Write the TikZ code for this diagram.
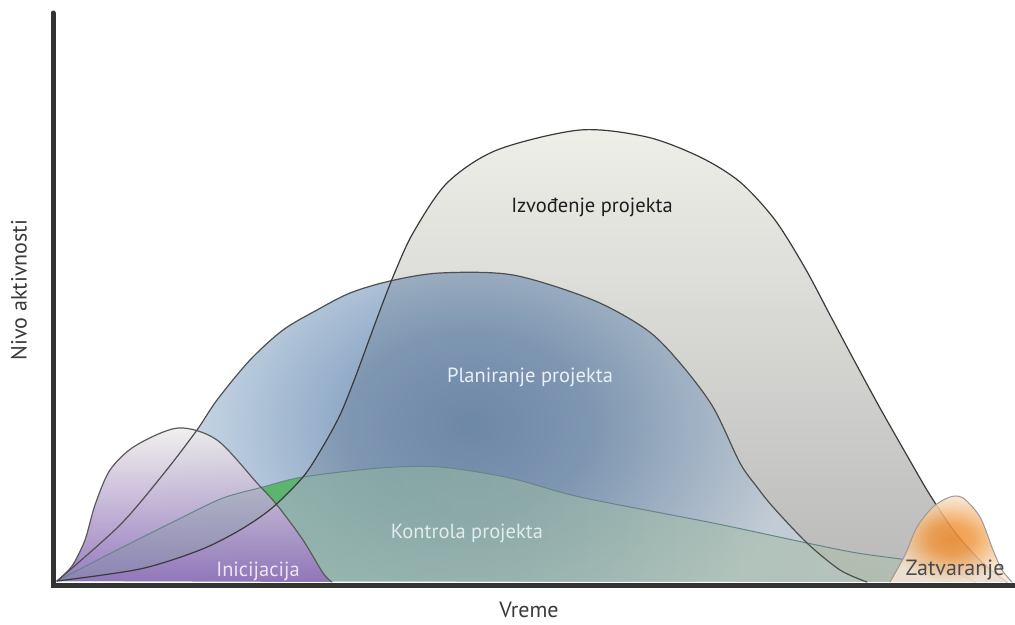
\documentclass[tikz,border=0pt]{standalone}
\usepackage{fontspec}
\setmainfont{PT Sans}
\definecolor{izvTop}{HTML}{EFEFE9}
\definecolor{izvMid}{HTML}{E3E3DF}
\definecolor{izvBot}{HTML}{B9B9B9}
\definecolor{planIn}{HTML}{7A97BA}
\definecolor{planMid}{HTML}{8CA7C6}
\definecolor{planOut}{HTML}{D9E4ED}
\definecolor{konL}{HTML}{7BAE98}
\definecolor{konR}{HTML}{B4C2B0}
\definecolor{konBand}{HTML}{7F9E9E}
\definecolor{iniTop}{HTML}{F0EFEC}
\definecolor{iniBot}{HTML}{9070BC}
\definecolor{overlapGreen}{HTML}{5CB56E}
\definecolor{zatIn}{HTML}{EE8A2A}
\definecolor{zatMid}{HTML}{F19A45}
\definecolor{zatLight}{HTML}{F5C99C}
\definecolor{zatOut}{HTML}{F6E6D6}
\definecolor{lineIzv}{HTML}{3A3A3A}
\definecolor{linePlan}{HTML}{4F4F4F}
\definecolor{lineIni}{HTML}{5A5A5A}
\definecolor{lineKon}{HTML}{66858A}
\definecolor{lineZat}{HTML}{A09890}
\definecolor{axisGray}{HTML}{333333}
\definecolor{izvText}{HTML}{1E1E1E}
\definecolor{planText}{HTML}{EAF0F6}
\definecolor{konText}{HTML}{E2ECEB}
\definecolor{iniText}{HTML}{EEE6F6}
\definecolor{zatText}{HTML}{4A4A4A}
\definecolor{axisText}{HTML}{3A3A3A}
% radial shadings: 25bp is the edge of the shaded path's bounding box
\pgfdeclareradialshading{planshade}{\pgfpoint{0bp}{0bp}}{color(0bp)=(planIn); color(9bp)=(planMid); color(25bp)=(planOut); color(50bp)=(planOut)}
\pgfdeclareradialshading{zatshade}{\pgfpoint{0bp}{0bp}}{color(0bp)=(zatIn); color(9bp)=(zatMid); color(18bp)=(zatLight); color(25bp)=(zatOut); color(50bp)=(zatOut)}
\begin{document}
\begin{tikzpicture}[x=1pt,y=-1pt,line join=round,line cap=round,
  phase/.style={font=\fontsize{20.5}{22}\selectfont,inner sep=0pt},
  axislabel/.style={font=\fontsize{22}{24}\selectfont,text=axisText,inner sep=0pt},
  edge/.style={line width=1.2pt}]
\useasboundingbox (0,0) rectangle (1015,624);

% phase curves (x to the right, activity upwards)
\def\cIzv{plot[smooth] coordinates {(57,581) (140,569) (200,550) (240,530) (272,508) (303,477) (322,448) (340,415) (355,378) (369,340) (382,305) (395,272) (413,233) (447,183) (497,150) (580,130) (647,137) (700,157) (740,182) (775,220) (805,268) (830,315) (855,362) (880,408) (905,452) (930,495) (957,535) (985,565) (1007,582)}}
\def\cPlan{plot[smooth] coordinates {(57,581) (120,525) (165,472) (197,430) (217,400) (250,360) (283,330) (317,310) (350,293) (390,281) (440,273) (513,275) (593,300) (647,330) (680,363) (713,407) (740,463) (757,487) (773,507) (807,543) (840,570) (867,582)}}
\def\cKon{plot[smooth] coordinates {(57,581) (117,550) (183,517) (223,498) (263,487) (303,477) (380,468) (440,467) (510,478) (580,497) (713,523) (807,543) (857,553) (907,560) (945,568) (975,582)}}
\def\cIni{plot[smooth] coordinates {(57,581) (72,566) (85,540) (95,505) (110,470) (135,446) (178,428) (217,440) (257,483) (277,505) (303,540) (323,573) (332,582)}}
\def\cZat{plot[smooth] coordinates {(890,582) (905,555) (917,527) (933,507) (950,497) (963,498) (980,517) (993,550) (1002,570) (1012,582)}}

% execution
\shade[top color=izvTop,middle color=izvMid,bottom color=izvBot] \cIzv -- cycle;
% planning
\fill[planOut] \cPlan -- cycle;
\begin{scope}
  \clip \cPlan -- cycle;
  \shade[shading=planshade] (470,425) ellipse (330 and 250);
  \fill[black,opacity=0.1] \cIzv -- cycle;
\end{scope}
% control
\shade[left color=konL,right color=konR,opacity=0.6] \cKon -- cycle;
% initiation
\shade[top color=iniTop,bottom color=iniBot,opacity=0.9] \cIni -- cycle;
\begin{scope}
  \clip \cIni -- cycle;
  \clip \cKon -- cycle;
  \fill[konBand,opacity=0.3,even odd rule] (0,0) rectangle (1015,624) \cIzv -- cycle;
\end{scope}
% planning and control only
\begin{scope}
  \clip \cKon -- cycle;
  \clip \cPlan -- cycle;
  \begin{scope}[even odd rule]
    \clip (0,0) rectangle (1015,624) \cIzv -- cycle;
    \clip (0,0) rectangle (1015,624) \cIni -- cycle;
    \fill[overlapGreen] (240,460) rectangle (320,520);
  \end{scope}
\end{scope}

% outlines
\draw[edge,lineKon,line width=1pt] \cKon;
\draw[edge,lineIni] \cIni;
\draw[edge,linePlan] \cPlan;
\draw[edge,lineIzv] \cIzv;

% closing
\shade[shading=zatshade,opacity=0.85] \cZat -- cycle;
\draw[lineZat,line width=1pt] \cZat;

% labels
\node[phase,text=izvText] (izv) at (592,207) {Izvođenje projekta};
\node[phase,text=planText] (plan) at (530,377) {Planiranje projekta};
\node[phase,text=konText] (kon) at (467,533) {Kontrola projekta};
\node[phase,text=iniText] (ini) at (258,571) {Inicijacija};
\node[phase,text=zatText,font=\fontsize{22}{24}\selectfont] (zat) at (955,570) {Zatvaranje};

% axes
\draw[axisGray,line width=5pt,line cap=round] (53,13) -- (53,585);
\draw[axisGray,line width=5pt,line cap=butt] (50.5,585) -- (1015,585);
\node[axislabel,rotate=90] (ylab) at (19,290) {Nivo aktivnosti};
\node[axislabel] (xlab) at (529,610) {Vreme};
\end{tikzpicture}
\end{document}
